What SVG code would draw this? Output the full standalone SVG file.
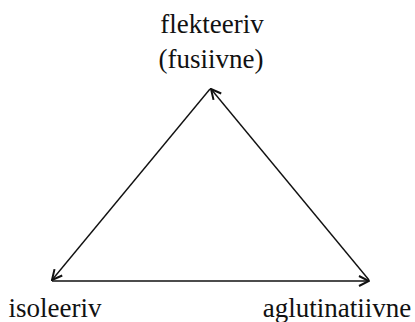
<svg xmlns="http://www.w3.org/2000/svg" width="415" height="322" viewBox="0 0 415 322">
<defs>
<style>
.lbl{font-family:"Liberation Serif","DejaVu Serif",serif;font-size:27px;fill:#111;text-anchor:middle}
.edge{stroke:#111;stroke-width:1.4;fill:none}
</style>
<marker id="ah" viewBox="0 0 12 12" refX="11" refY="6" markerWidth="12" markerHeight="12" markerUnits="userSpaceOnUse" orient="auto">
<path d="M1,1 L11,6 L1,11" fill="none" stroke="#111" stroke-width="2"/>
</marker>
</defs>
<rect width="415" height="322" fill="#fff"/>
<g id="connectors">
<line class="edge" x1="210" y1="89" x2="52" y2="280" marker-end="url(#ah)"/>
<line class="edge" x1="52" y1="281" x2="369" y2="281" marker-end="url(#ah)"/>
<line class="edge" x1="369" y1="280" x2="211" y2="89" marker-end="url(#ah)"/>
</g>
<g id="flekteeriv">
<text class="lbl" x="212" y="33">flekteeriv</text>
<text class="lbl" x="211" y="68">(fusiivne)</text>
</g>
<g id="isoleeriv">
<text class="lbl" x="55" y="317">isoleeriv</text>
</g>
<g id="aglutinatiivne">
<text class="lbl" x="337" y="317">aglutinatiivne</text>
</g>
</svg>
